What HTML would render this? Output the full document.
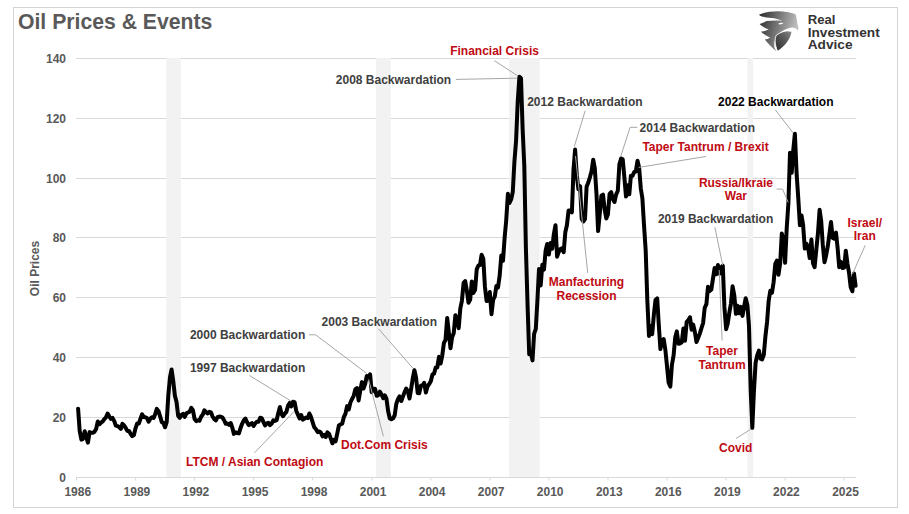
<!DOCTYPE html>
<html><head><meta charset="utf-8"><title>Oil Prices &amp; Events</title>
<style>
html,body{margin:0;padding:0;background:#fff;}
body{width:909px;height:514px;overflow:hidden;font-family:"Liberation Sans",sans-serif;}
svg{display:block;}
text{font-family:"Liberation Sans",sans-serif;font-weight:bold;}
.ax{font-size:12px;fill:#595959;}
.k{font-size:12px;fill:#404040;}
.r{font-size:12px;fill:#c00a12;}
.b{font-size:12px;fill:#000;}
.t{font-size:21.2px;fill:#595959;}
.lg{font-size:13px;fill:#333;}
.ld{stroke:#a6a6a6;stroke-width:1;fill:none;}
</style></head><body>
<svg width="909" height="514" viewBox="0 0 909 514">
<rect x="0" y="0" width="909" height="514" fill="#fff"/>
<rect x="13.5" y="7.5" width="884" height="500" fill="#fff" stroke="#d4d4d4" stroke-width="1"/>
<text x="18" y="29" class="t">Oil Prices &amp; Events</text>
<line x1="76" y1="477.5" x2="856" y2="477.5" stroke="#d9d9d9" stroke-width="1"/>
<line x1="76" y1="417.5" x2="856" y2="417.5" stroke="#d9d9d9" stroke-width="1"/>
<line x1="76" y1="357.5" x2="856" y2="357.5" stroke="#d9d9d9" stroke-width="1"/>
<line x1="76" y1="297.5" x2="856" y2="297.5" stroke="#d9d9d9" stroke-width="1"/>
<line x1="76" y1="237.5" x2="856" y2="237.5" stroke="#d9d9d9" stroke-width="1"/>
<line x1="76" y1="178.5" x2="856" y2="178.5" stroke="#d9d9d9" stroke-width="1"/>
<line x1="76" y1="118.5" x2="856" y2="118.5" stroke="#d9d9d9" stroke-width="1"/>
<line x1="76" y1="58.5" x2="856" y2="58.5" stroke="#d9d9d9" stroke-width="1"/>
<rect x="166.4" y="58" width="14.4" height="419" fill="#f2f2f2"/>
<rect x="376.0" y="58" width="14.8" height="419" fill="#f2f2f2"/>
<rect x="509.1" y="58" width="30.5" height="419" fill="#f2f2f2"/>
<rect x="747.5" y="58" width="5.6" height="419" fill="#f2f2f2"/>
<line x1="76.5" y1="477" x2="76.5" y2="480.5" stroke="#d9d9d9" stroke-width="1"/>
<line x1="135.6" y1="477" x2="135.6" y2="480.5" stroke="#d9d9d9" stroke-width="1"/>
<line x1="194.6" y1="477" x2="194.6" y2="480.5" stroke="#d9d9d9" stroke-width="1"/>
<line x1="253.7" y1="477" x2="253.7" y2="480.5" stroke="#d9d9d9" stroke-width="1"/>
<line x1="312.7" y1="477" x2="312.7" y2="480.5" stroke="#d9d9d9" stroke-width="1"/>
<line x1="371.8" y1="477" x2="371.8" y2="480.5" stroke="#d9d9d9" stroke-width="1"/>
<line x1="430.8" y1="477" x2="430.8" y2="480.5" stroke="#d9d9d9" stroke-width="1"/>
<line x1="489.9" y1="477" x2="489.9" y2="480.5" stroke="#d9d9d9" stroke-width="1"/>
<line x1="548.9" y1="477" x2="548.9" y2="480.5" stroke="#d9d9d9" stroke-width="1"/>
<line x1="608.0" y1="477" x2="608.0" y2="480.5" stroke="#d9d9d9" stroke-width="1"/>
<line x1="667.0" y1="477" x2="667.0" y2="480.5" stroke="#d9d9d9" stroke-width="1"/>
<line x1="726.1" y1="477" x2="726.1" y2="480.5" stroke="#d9d9d9" stroke-width="1"/>
<line x1="785.1" y1="477" x2="785.1" y2="480.5" stroke="#d9d9d9" stroke-width="1"/>
<line x1="844.2" y1="477" x2="844.2" y2="480.5" stroke="#d9d9d9" stroke-width="1"/>
<text x="66" y="481.6" text-anchor="end" class="ax">0</text>
<text x="66" y="421.8" text-anchor="end" class="ax">20</text>
<text x="66" y="361.9" text-anchor="end" class="ax">40</text>
<text x="66" y="302.1" text-anchor="end" class="ax">60</text>
<text x="66" y="242.3" text-anchor="end" class="ax">80</text>
<text x="66" y="182.5" text-anchor="end" class="ax">100</text>
<text x="66" y="122.6" text-anchor="end" class="ax">120</text>
<text x="66" y="62.8" text-anchor="end" class="ax">140</text>
<text x="77.8" y="496" text-anchor="middle" class="ax">1986</text>
<text x="136.9" y="496" text-anchor="middle" class="ax">1989</text>
<text x="195.9" y="496" text-anchor="middle" class="ax">1992</text>
<text x="255.0" y="496" text-anchor="middle" class="ax">1995</text>
<text x="314.0" y="496" text-anchor="middle" class="ax">1998</text>
<text x="373.1" y="496" text-anchor="middle" class="ax">2001</text>
<text x="432.1" y="496" text-anchor="middle" class="ax">2004</text>
<text x="491.2" y="496" text-anchor="middle" class="ax">2007</text>
<text x="550.2" y="496" text-anchor="middle" class="ax">2010</text>
<text x="609.3" y="496" text-anchor="middle" class="ax">2013</text>
<text x="668.3" y="496" text-anchor="middle" class="ax">2016</text>
<text x="727.4" y="496" text-anchor="middle" class="ax">2019</text>
<text x="786.4" y="496" text-anchor="middle" class="ax">2022</text>
<text x="845.5" y="496" text-anchor="middle" class="ax">2025</text>

<text transform="translate(39.3,268.5) rotate(-90)" text-anchor="middle" class="ax">Oil Prices</text>
<path d="M78.1,408.7 L79.7,431.1 L81.4,439.6 L83.0,438.9 L84.7,431.3 L86.3,437.1 L87.9,442.6 L89.6,432.1 L91.2,432.8 L92.9,432.7 L94.5,431.8 L96.1,429.1 L97.8,421.5 L99.4,424.2 L101.1,422.6 L102.7,421.4 L104.3,419.1 L106.0,417.3 L107.6,413.5 L109.3,416.5 L110.9,418.9 L112.5,417.9 L114.2,420.9 L115.8,425.6 L117.5,426.1 L119.1,427.0 L120.8,428.8 L122.4,423.9 L124.0,425.2 L125.7,427.9 L127.3,430.9 L129.0,430.9 L130.6,433.8 L132.2,436.1 L133.9,435.0 L135.5,428.3 L137.2,423.4 L138.8,423.6 L140.4,419.0 L142.1,414.3 L143.7,417.1 L145.4,417.3 L147.0,418.1 L148.6,421.7 L150.3,418.7 L151.9,417.2 L153.6,417.9 L155.2,414.2 L156.8,408.9 L158.5,411.2 L160.1,416.3 L161.8,422.2 L163.4,422.9 L165.0,427.3 L166.7,422.1 L168.3,395.6 L170.0,377.1 L171.6,369.5 L173.2,380.6 L174.9,395.7 L176.5,401.8 L178.2,416.0 L179.8,417.8 L181.4,415.0 L183.1,413.8 L184.7,416.9 L186.4,413.3 L188.0,412.4 L189.6,411.8 L191.3,407.8 L192.9,410.1 L194.6,419.0 L196.2,421.1 L197.8,420.4 L199.5,420.7 L201.1,416.8 L202.8,414.5 L204.4,410.3 L206.0,412.1 L207.7,413.5 L209.3,411.8 L211.0,412.4 L212.6,416.5 L214.3,419.2 L215.9,420.4 L217.5,417.2 L219.2,416.5 L220.8,416.7 L222.5,417.6 L224.1,420.2 L225.7,423.8 L227.4,423.4 L229.0,424.9 L230.7,423.0 L232.3,427.6 L233.9,433.9 L235.6,432.3 L237.2,433.1 L238.9,433.4 L240.5,428.2 L242.1,423.8 L243.8,420.3 L245.4,418.5 L247.1,422.3 L248.7,425.1 L250.3,424.3 L252.0,423.2 L253.6,426.0 L255.3,423.3 L256.9,421.7 L258.5,421.8 L260.2,417.8 L261.8,418.2 L263.5,422.1 L265.1,425.5 L266.7,423.4 L268.4,422.8 L270.0,425.2 L271.7,423.5 L273.3,420.4 L274.9,420.9 L276.6,420.2 L278.2,413.5 L279.9,407.0 L281.5,414.0 L283.1,416.2 L284.8,413.6 L286.4,411.8 L288.1,405.6 L289.7,402.9 L291.3,406.4 L293.0,401.8 L294.6,402.1 L296.3,411.0 L297.9,414.6 L299.6,418.4 L301.2,415.0 L302.8,419.7 L304.5,418.5 L306.1,417.6 L307.8,418.1 L309.4,413.5 L311.0,416.9 L312.7,422.5 L314.3,427.3 L316.0,429.3 L317.6,432.1 L319.2,431.4 L320.9,432.7 L322.5,436.3 L324.2,434.9 L325.8,437.0 L327.4,432.3 L329.1,434.0 L330.7,438.4 L332.4,443.3 L334.0,439.8 L335.6,441.4 L337.3,433.4 L338.9,425.5 L340.6,424.3 L342.2,423.7 L343.8,417.2 L345.5,413.6 L347.1,406.1 L348.8,409.4 L350.4,402.5 L352.0,399.2 L353.7,395.8 L355.3,389.4 L357.0,388.0 L358.6,400.4 L360.2,391.2 L361.9,382.1 L363.5,388.5 L365.2,383.8 L366.8,376.0 L368.4,378.3 L370.1,374.3 L371.7,392.2 L373.4,388.8 L375.0,388.7 L376.7,395.8 L378.3,395.1 L379.9,391.7 L381.6,394.7 L383.2,398.2 L384.9,395.4 L386.5,398.9 L388.1,411.0 L389.8,418.5 L391.4,419.3 L393.1,418.3 L394.7,415.3 L396.3,403.9 L398.0,399.0 L399.6,396.4 L401.3,401.0 L402.9,396.6 L404.5,392.4 L406.2,388.6 L407.8,391.0 L409.5,398.5 L411.1,389.2 L412.7,378.7 L414.4,370.1 L416.0,377.1 L417.7,393.0 L419.3,393.2 L420.9,385.6 L422.6,385.3 L424.2,382.9 L425.9,392.6 L427.5,386.5 L429.1,384.2 L430.8,381.2 L432.4,374.7 L434.1,373.5 L435.7,367.4 L437.3,367.4 L439.0,356.8 L440.6,363.5 L442.3,355.3 L443.9,343.0 L445.5,339.9 L447.2,317.9 L448.8,332.3 L450.5,348.2 L452.1,337.2 L453.7,333.3 L455.4,315.2 L457.0,318.8 L458.7,328.2 L460.3,308.7 L461.9,300.8 L463.6,282.9 L465.2,281.1 L466.9,291.1 L468.5,302.8 L470.2,299.6 L471.8,281.4 L473.4,292.9 L475.1,289.8 L476.7,269.6 L478.4,265.4 L480.0,265.1 L481.6,254.7 L483.3,258.8 L484.9,286.4 L486.6,301.1 L488.2,300.6 L489.8,292.0 L491.5,314.2 L493.1,300.0 L494.8,296.5 L496.4,285.9 L498.0,287.5 L499.7,275.4 L501.3,255.6 L503.0,260.8 L504.6,238.2 L506.2,220.6 L507.9,193.8 L509.5,203.0 L511.2,199.2 L512.8,191.9 L514.4,161.9 L516.1,140.5 L517.7,102.2 L519.4,76.8 L521.0,78.3 L522.6,128.3 L524.3,165.9 L525.9,248.1 L527.6,305.9 L529.2,354.3 L530.8,352.5 L532.5,360.4 L534.1,333.9 L535.8,328.8 L537.4,300.7 L539.0,269.0 L540.7,285.4 L542.3,264.8 L544.0,269.7 L545.6,250.8 L547.2,244.0 L548.9,254.5 L550.5,243.0 L552.2,248.8 L553.8,234.4 L555.5,225.2 L557.1,256.7 L558.7,251.9 L560.4,249.0 L562.0,248.2 L563.7,252.2 L565.3,232.3 L566.9,225.3 L568.6,210.6 L570.2,210.6 L571.9,212.3 L573.5,169.6 L575.1,149.6 L576.8,175.5 L578.4,189.3 L580.1,186.2 L581.7,219.0 L583.3,221.5 L585.0,219.1 L586.6,186.7 L588.3,182.5 L589.9,177.3 L591.5,171.6 L593.2,159.7 L594.8,168.2 L596.5,194.1 L598.1,231.1 L599.7,214.4 L601.4,195.7 L603.0,194.6 L604.7,209.6 L606.3,218.5 L607.9,214.5 L609.6,193.8 L611.2,192.2 L612.9,199.3 L614.5,202.0 L616.1,194.6 L617.8,190.8 L619.4,164.2 L621.1,158.5 L622.7,159.3 L624.3,176.5 L626.0,196.5 L627.6,185.2 L629.3,194.3 L630.9,175.7 L632.6,175.8 L634.2,172.0 L635.8,171.6 L637.5,160.8 L639.1,167.4 L640.8,188.5 L642.4,198.5 L644.0,224.8 L645.7,250.6 L647.3,299.9 L649.0,336.0 L650.6,326.0 L652.2,334.2 L653.9,314.4 L655.5,300.0 L657.2,298.4 L658.8,325.0 L660.4,349.1 L662.1,341.2 L663.7,339.0 L665.4,350.3 L667.0,366.0 L668.6,382.5 L670.3,386.6 L671.9,365.0 L673.6,355.4 L675.2,337.6 L676.8,331.4 L678.5,343.7 L680.1,343.5 L681.8,342.1 L683.4,328.4 L685.0,340.7 L686.7,321.8 L688.3,320.2 L690.0,317.3 L691.6,329.7 L693.2,324.6 L694.9,332.3 L696.5,342.1 L698.2,337.8 L699.8,333.6 L701.4,328.3 L703.1,323.0 L704.7,307.9 L706.4,304.2 L708.0,286.7 L709.6,291.1 L711.3,289.6 L712.9,279.1 L714.6,268.0 L716.2,274.3 L717.9,265.0 L719.5,273.7 L721.1,267.2 L722.8,265.7 L724.4,306.9 L726.1,329.2 L727.7,323.6 L729.3,312.9 L731.0,303.3 L732.6,286.3 L734.3,295.3 L735.9,313.8 L737.5,305.7 L739.2,313.3 L740.8,306.9 L742.5,315.9 L744.1,306.7 L745.7,298.2 L747.4,305.2 L749.0,326.1 L750.7,389.9 L752.3,427.8 L753.9,391.9 L755.6,362.7 L757.2,355.5 L758.9,350.6 L760.5,358.7 L762.1,359.4 L763.8,354.8 L765.4,336.6 L767.1,321.7 L768.7,300.7 L770.3,290.8 L772.0,292.7 L773.6,282.3 L775.3,263.8 L776.9,260.5 L778.5,274.7 L780.2,263.0 L781.8,233.6 L783.5,240.5 L785.1,262.8 L786.7,228.4 L788.4,203.2 L790.0,152.7 L791.7,172.8 L793.3,149.6 L794.9,133.8 L796.6,173.3 L798.2,197.1 L799.9,225.2 L801.5,215.4 L803.1,224.9 L804.8,248.6 L806.4,243.6 L808.1,247.5 L809.7,258.1 L811.4,239.6 L813.0,263.2 L814.6,267.2 L816.3,249.7 L817.9,233.8 L819.6,209.8 L821.2,221.1 L822.8,244.9 L824.5,262.2 L826.1,255.5 L827.8,246.2 L829.4,234.2 L831.0,222.0 L832.7,237.9 L834.3,238.7 L836.0,232.6 L837.6,247.9 L839.2,267.2 L840.9,261.9 L842.5,268.0 L844.2,267.5 L845.8,250.7 L847.4,263.3 L849.1,273.2 L850.7,287.2 L852.4,291.3 L854.0,273.4 L855.6,285.8" fill="none" stroke="#000" stroke-width="4.0" stroke-linejoin="round" stroke-linecap="round"/>

<g class="ld">
<path d="M494.3,60.6 L518,76"/>
<path d="M456,79.4 L517,78.2"/>
<path d="M585.2,110.7 L574.3,146.5"/>
<path d="M637.3,127.3 L630.1,127.3 L620.7,156.5"/>
<path d="M705.9,156.5 L638.7,167.4"/>
<path d="M775.3,109.8 L793.1,132.9"/>
<path d="M776.6,189.1 L782.6,189.1 L788.2,202.4"/>
<path d="M865.2,245.3 L852.5,274"/>
<path d="M714.9,227.3 L722.7,265.2"/>
<path d="M722.1,340.5 L719.2,270"/>
<path d="M736.1,438.4 L750.8,429.2"/>
<path d="M587.7,272.8 L575.5,156"/>
<path d="M378.5,328.8 L413.2,368.5"/>
<path d="M309,334.8 L315.6,334.8 L366.9,373.5"/>
<path d="M249.5,375.5 L290.8,400.9"/>
<path d="M254.4,452.9 L294.1,411.5"/>
<path d="M383.4,436.3 L368.6,379.4"/>
</g>

<text x="450.2" y="54.8" class="r">Financial Crisis</text>
<text x="335.8" y="84.1" class="k">2008 Backwardation</text>
<text x="527.2" y="105.6" class="k">2012 Backwardation</text>
<text x="639.6" y="132.2" class="k">2014 Backwardation</text>
<text x="642.4" y="151.4" class="r">Taper Tantrum / Brexit</text>
<text x="718.1" y="106.2" class="b">2022 Backwardation</text>
<text x="735.9" y="186.7" text-anchor="middle" class="r">Russia/Ikraie</text>
<text x="735.9" y="199.9" text-anchor="middle" class="r">War</text>
<text x="864.8" y="226.5" text-anchor="middle" class="r">Israel/</text>
<text x="864.8" y="239.7" text-anchor="middle" class="r">Iran</text>
<text x="657.9" y="222.8" class="k">2019 Backwardation</text>
<text x="722" y="354.6" text-anchor="middle" class="r">Taper</text>
<text x="722" y="368.5" text-anchor="middle" class="r">Tantrum</text>
<text x="719.1" y="452" class="r">Covid</text>
<text x="586.5" y="286.4" text-anchor="middle" class="r">Manfacturing</text>
<text x="586.5" y="299.7" text-anchor="middle" class="r">Recession</text>
<text x="321.6" y="325.5" class="k">2003 Backwardation</text>
<text x="189.9" y="339.1" class="k">2000 Backwardation</text>
<text x="189.9" y="371.8" class="k">1997 Backwardation</text>
<text x="186" y="466" class="r">LTCM / Asian Contagion</text>
<text x="341.1" y="448.9" class="r">Dot.Com Crisis</text>

<defs>
<linearGradient id="g1" x1="0" y1="0" x2="1" y2="0"><stop offset="0" stop-color="#2e2e2e"/><stop offset="0.55" stop-color="#6a6a6a"/><stop offset="1" stop-color="#b8b8b8"/></linearGradient>
<linearGradient id="g2" x1="0" y1="0.1" x2="1" y2="0.35"><stop offset="0" stop-color="#2b2b2b"/><stop offset="0.45" stop-color="#707070"/><stop offset="1" stop-color="#c4c4c4"/></linearGradient>
<linearGradient id="g3" x1="0" y1="1" x2="1" y2="0"><stop offset="0" stop-color="#2a2a2a"/><stop offset="0.6" stop-color="#5c5c5c"/><stop offset="1" stop-color="#8a8a8a"/></linearGradient>
</defs>
<g transform="translate(752,6) scale(0.09722)">
<path d="M72,90 C160,48 340,40 448,86 C458,120 464,160 470,196 C480,215 478,238 470,254 C455,228 430,218 395,224 C350,232 300,262 262,300 C235,330 222,380 232,430 L250,466 C205,430 165,385 132,345 C152,345 172,338 187,325 C150,310 115,288 92,262 C120,262 150,255 172,240 C135,228 100,208 78,184 C100,178 125,168 148,154 C200,152 260,144 310,154 C240,114 150,128 96,106 C86,102 78,97 72,90 Z" fill="url(#g2)"/>
<path d="M250,302 C300,262 360,246 406,262 C400,332 340,412 262,462 C236,402 230,342 250,302 Z" fill="url(#g3)"/>
<path d="M262,462 C236,402 230,342 250,302 C300,262 360,246 406,262" fill="none" stroke="#fff" stroke-width="9"/>
<ellipse cx="296" cy="181" rx="24" ry="8" fill="#fff" transform="rotate(-6 296 181)"/>
</g>
<text x="807.7" y="24.4" class="lg" textLength="27.8" lengthAdjust="spacingAndGlyphs">Real</text>
<text x="807.7" y="36.8" class="lg" textLength="72" lengthAdjust="spacingAndGlyphs">Investment</text>
<text x="807.7" y="49.2" class="lg" textLength="44.8" lengthAdjust="spacingAndGlyphs">Advice</text>

</svg>
</body></html>
